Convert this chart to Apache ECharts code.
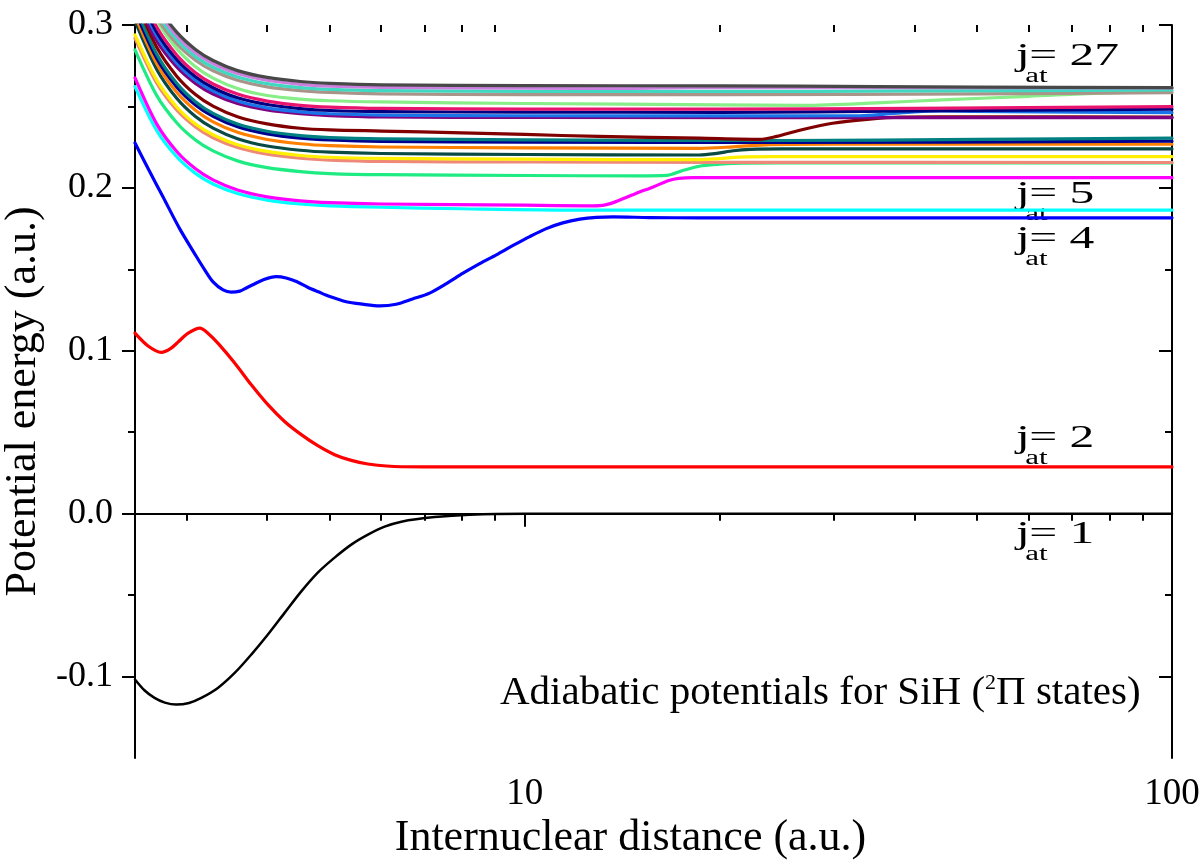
<!DOCTYPE html>
<html><head><meta charset="utf-8">
<script src="https://cdn.jsdelivr.net/npm/echarts@6/dist/echarts.min.js"></script>
<style>html,body{margin:0;padding:0;background:#fff}#c{width:1200px;height:865px}</style>
</head><body><div id="c"></div>
<script>
const FONT = '"Liberation Serif", "Times New Roman", serif';

// axis ranges and ticks
const R_MIN = 2.5, R_MAX = 100;
const E_MIN = -0.15, E_MAX = 0.3;
const xMajorTicks = [10, 100];
const xMinorTicks = [3, 4, 5, 6, 7, 8, 9, 20, 30, 40, 50, 60, 70, 80, 90];
const yMajorTicks = [-0.1, 0, 0.1, 0.2, 0.3];
const yMinorTicks = [-0.05, 0.05, 0.15, 0.25];

// curves: [internuclear distance, potential energy]
const curveBlack = [[2.5,-0.1018],[2.585,-0.1084],[2.68,-0.1131],[2.78,-0.116],[2.894,-0.1172],[3.03,-0.1162],[3.165,-0.1131],[3.357,-0.107],[3.564,-0.0978],[3.781,-0.0865],[4.011,-0.0742],[4.256,-0.0609],[4.517,-0.0477],[4.79,-0.0362],[5.085,-0.027],[5.396,-0.019],[5.725,-0.0129],[6.075,-0.008],[6.448,-0.0049],[7.26,-0.0021],[8.22,-0.0006],[10,0],[100,0]];
const curveRed = [[2.5,0.1108],[2.616,0.1031],[2.745,0.099],[2.84,0.1015],[2.92,0.1057],[3.02,0.1108],[3.15,0.1139],[3.24,0.1108],[3.357,0.1047],[3.564,0.0925],[3.781,0.0791],[4.011,0.0669],[4.256,0.0566],[4.517,0.0485],[4.79,0.0417],[5.085,0.0362],[5.396,0.0327],[5.725,0.0305],[6.448,0.0288],[7.26,0.0287],[100,0.0287]];
const curveBlue = [[2.5,0.2276],[2.63,0.2105],[2.76,0.1947],[2.93,0.175],[3.11,0.1579],[3.2,0.150],[3.3,0.1423],[3.42,0.1374],[3.52,0.136],[3.63,0.1366],[3.72,0.1387],[3.8,0.1405],[3.94,0.1435],[4.13,0.1455],[4.28,0.1447],[4.44,0.1425],[4.62,0.139],[4.8,0.1362],[5.0,0.1333],[5.3,0.1301],[5.62,0.1286],[5.97,0.1276],[6.33,0.1286],[6.71,0.1318],[7.13,0.1354],[7.57,0.1412],[8.03,0.1476],[8.52,0.1535],[9.04,0.1589],[9.58,0.1645],[10.18,0.1701],[10.8,0.175],[11.45,0.1785],[12.17,0.1808],[12.9,0.1819],[13.7,0.1822],[15.6,0.1818],[18.6,0.1816],[100,0.1816]];
const curveCyan = [[2.5,0.2622],[2.7,0.2353],[2.9,0.2191],[3.1,0.2089],[3.3,0.2024],[3.6,0.1965],[4.0,0.1925],[4.5,0.1901],[5,0.189],[6,0.1881],[8,0.1872],[12,0.1864],[100,0.1864]];
const curveMagenta = [[2.5,0.2675],[2.7,0.2393],[2.9,0.2223],[3.1,0.2117],[3.3,0.2049],[3.6,0.1987],[4.0,0.1945],[4.5,0.192],[5,0.1909],[6,0.1901],[10,0.1894],[12.5,0.189],[13.2,0.1893],[13.6,0.1905],[14.0,0.1924],[14.85,0.1966],[15.8,0.2006],[16.7,0.2045],[17.3,0.2058],[18.2,0.2063],[100,0.2063]];
const curveSpring = [[2.5,0.2847],[2.7,0.2568],[2.9,0.24],[3.1,0.2294],[3.3,0.2227],[3.6,0.2166],[4.0,0.2124],[4.5,0.21],[5,0.2088],[6,0.2081],[10,0.2076],[15,0.2074],[16.6,0.2077],[17.5,0.2105],[18.6,0.2133],[20,0.2146],[21,0.2151],[25,0.2153],[100,0.2153]];
const curveSalmon = [[2.5,0.2918],[2.7,0.2644],[2.9,0.2478],[3.1,0.2374],[3.3,0.2308],[3.6,0.2248],[4.0,0.2207],[4.5,0.2182],[5,0.2171],[6,0.2163],[10,0.2159],[20,0.2157],[100,0.2156]];
const curveYellow = [[2.5,0.2939],[2.7,0.2663],[2.9,0.2497],[3.1,0.2392],[3.3,0.2326],[3.6,0.2265],[4.0,0.2224],[4.5,0.2199],[5,0.2188],[6,0.2181],[10,0.2176],[18.6,0.2173],[20,0.218],[21.5,0.2189],[24,0.2192],[100,0.2192]];
const curveDarkGreen = [[2.5,0.3025],[2.7,0.2729],[2.9,0.255],[3.1,0.2438],[3.3,0.2367],[3.6,0.2302],[4.0,0.2257],[4.5,0.2231],[5,0.2219],[6,0.2211],[10,0.2205],[18.6,0.2202],[19.8,0.2212],[21,0.2228],[22.3,0.2236],[25,0.2239],[100,0.2239]];
const curveOrange = [[2.5,0.3057],[2.7,0.2764],[2.9,0.2587],[3.1,0.2476],[3.3,0.2405],[3.6,0.2341],[4.0,0.2297],[4.5,0.2271],[5,0.2259],[6,0.2251],[10,0.2246],[18.6,0.2243],[21,0.2252],[23.9,0.2265],[30,0.2268],[100,0.2268]];
const curveNavyLow = [[2.5,0.3087],[2.7,0.2796],[2.9,0.262],[3.1,0.2509],[3.3,0.2439],[3.6,0.2375],[4.0,0.2332],[4.5,0.2306],[5,0.2294],[6,0.2285],[10,0.2281],[25,0.2279],[100,0.2287]];
const curveTeal = [[2.5,0.3119],[2.7,0.2822],[2.9,0.2642],[3.1,0.2529],[3.3,0.2457],[3.6,0.2392],[4.0,0.2348],[4.5,0.2321],[5,0.2309],[6,0.2301],[10,0.2295],[25,0.2291],[50,0.2298],[100,0.2305]];
const curveMaroon = [[2.5,0.3162],[2.7,0.2865],[2.9,0.2686],[3.1,0.2573],[3.3,0.2502],[3.6,0.2437],[4.0,0.2393],[4.5,0.2366],[5,0.2356],[6,0.2349],[8,0.2338],[10,0.2328],[13,0.2316],[18.6,0.2305],[23.1,0.2298],[24.5,0.2316],[26.6,0.2354],[29.9,0.2397],[33.8,0.2421],[38,0.2434],[50,0.2436],[100,0.2434]];
const curvePurple = [[2.5,0.3169],[2.7,0.2903],[2.9,0.2742],[3.1,0.2641],[3.3,0.2576],[3.6,0.2518],[4.0,0.2478],[4.5,0.2455],[5,0.2444],[6,0.2436],[10,0.2432],[100,0.2431]];
const curveAzure = [[2.5,0.3212],[2.7,0.2934],[2.9,0.2766],[3.1,0.2661],[3.3,0.2594],[3.6,0.2533],[4.0,0.2491],[4.5,0.2467],[5,0.2455],[6,0.2447],[10,0.2443],[20,0.2442],[33,0.2443],[36,0.2452],[40,0.2466],[44,0.2472],[55,0.2468],[100,0.2462]];
const curveNavyHigh = [[2.5,0.3237],[2.7,0.2957],[2.9,0.2788],[3.1,0.2682],[3.3,0.2615],[3.6,0.2553],[4.0,0.2512],[4.5,0.2487],[5,0.2475],[6,0.2468],[10,0.2465],[20,0.2464],[40,0.2472],[100,0.2483]];
const curveCrimson = [[2.5,0.3276],[2.7,0.2989],[2.9,0.2816],[3.1,0.2707],[3.3,0.2638],[3.6,0.2576],[4.0,0.2533],[4.5,0.2507],[5,0.2496],[6,0.2488],[10,0.2484],[20,0.2483],[40,0.2488],[100,0.2499]];
const curveLightGreen = [[2.5,0.3323],[2.7,0.3031],[2.9,0.2855],[3.1,0.2744],[3.3,0.2674],[3.6,0.261],[4.0,0.2567],[4.5,0.2545],[5,0.2535],[6,0.2528],[10,0.2518],[20,0.251],[27,0.2507],[35,0.2522],[45,0.2542],[60,0.2562],[77,0.2582],[100,0.2593]];
const curveTan = [[2.5,0.3315],[2.7,0.3047],[2.9,0.2885],[3.1,0.2784],[3.3,0.2719],[3.6,0.2661],[4.0,0.262],[4.5,0.2597],[5,0.2586],[6,0.2577],[10,0.2573],[20,0.2572],[50,0.2577],[100,0.2585]];
const curveSeafoam = [[2.5,0.3347],[2.7,0.3074],[2.9,0.291],[3.1,0.2806],[3.3,0.2741],[3.6,0.2681],[4.0,0.264],[4.5,0.2616],[5,0.2605],[6,0.2597],[10,0.2593],[20,0.2592],[40,0.2595],[100,0.2601]];
const curveViolet = [[2.5,0.3376],[2.7,0.31],[2.9,0.2934],[3.1,0.2829],[3.3,0.2763],[3.6,0.2702],[4.0,0.2661],[4.5,0.2636],[5,0.2625],[6,0.2617],[10,0.2612],[14.5,0.2611],[18,0.2616],[100,0.2614]];
const curveGray = [[2.5,0.3408],[2.7,0.3126],[2.9,0.2956],[3.1,0.285],[3.3,0.2782],[3.6,0.272],[4.0,0.2678],[4.5,0.2653],[5,0.2642],[6,0.2633],[10,0.2628],[20,0.2626],[35,0.2622],[50,0.2618],[100,0.2615]];

const curves = [
  {name:'c1', color:'#000000', width:2.5, data:curveBlack},
  {name:'c2', color:'#FF0000', width:3.2, data:curveRed},
  {name:'c3', color:'#0000FF', width:3.2, data:curveBlue},
  {name:'c4', color:'#00FFFF', width:3.2, data:curveCyan},
  {name:'c5', color:'#FF00FF', width:3.2, data:curveMagenta},
  {name:'c6', color:'#1EEB82', width:3.2, data:curveSpring},
  {name:'c7', color:'#EE8878', width:3.2, data:curveSalmon},
  {name:'c8', color:'#FFF000', width:3.2, data:curveYellow},
  {name:'c9', color:'#0A4A44', width:3.2, data:curveDarkGreen},
  {name:'c10', color:'#FF8000', width:3.2, data:curveOrange},
  {name:'c11', color:'#000090', width:3.2, data:curveNavyLow},
  {name:'c12', color:'#008080', width:3.2, data:curveTeal},
  {name:'c13', color:'#800000', width:3.2, data:curveMaroon},
  {name:'c14', color:'#800080', width:3.2, data:curvePurple},
  {name:'c15', color:'#1874E8', width:3.2, data:curveAzure},
  {name:'c16', color:'#000080', width:3.2, data:curveNavyHigh},
  {name:'c17', color:'#E8146E', width:3.2, data:curveCrimson},
  {name:'c18', color:'#88EE88', width:3.2, data:curveLightGreen},
  {name:'c19', color:'#A89488', width:3.2, data:curveTan},
  {name:'c20', color:'#40D8C0', width:3.2, data:curveSeafoam},
  {name:'c21', color:'#CC80DD', width:3.2, data:curveViolet},
  {name:'c22', color:'#484848', width:3.2, data:curveGray}
];

const jLabels = [
  {num:'27', base:67},
  {num:'5', base:205},
  {num:'4', base:250},
  {num:'2', base:449},
  {num:'1', base:545}
];

const LMIN = Math.log10(R_MIN), LMAX = Math.log10(R_MAX);
const black = '#000';
const lineSt = {color:black, width:2};

function overlayX(pos, ticks, len, inside, showLine, labels) {
  return {
    type:'value', min:LMIN, max:LMAX, position:pos,
    axisLine:{show:showLine, lineStyle:lineSt},
    axisTick:{show:true, inside:inside, length:len, lineStyle:lineSt, customValues:ticks.map(Math.log10)},
    axisLabel: labels ? {show:true, customValues:ticks.map(Math.log10), formatter:v=>String(Math.round(Math.pow(10,v))),
       fontSize:37, fontFamily:FONT, color:black, margin:18} : {show:false},
    splitLine:{show:false}, minorTick:{show:false}
  };
}
function overlayY(pos, ticks, len, inside, showLine, labels, extra) {
  return Object.assign({
    type:'value', min:E_MIN, max:E_MAX, position:pos,
    axisLine:{show:showLine, lineStyle:lineSt},
    axisTick:{show:true, inside:inside, length:len, lineStyle:lineSt, customValues:ticks},
    axisLabel: labels ? {show:true, customValues:ticks, formatter:v=>v.toFixed(1),
       fontSize:36, fontFamily:FONT, color:black, margin:22} : {show:false},
    splitLine:{show:false}, minorTick:{show:false}
  }, extra || {});
}

const xAxes = [
  {type:'log', logBase:10, min:R_MIN, max:R_MAX, position:'bottom',
   axisLine:{show:true, lineStyle:lineSt}, axisTick:{show:false}, axisLabel:{show:false},
   splitLine:{show:false}, minorTick:{show:false},
   name:'Internuclear distance (a.u.)', nameLocation:'middle', nameGap:58,
   nameTextStyle:{fontSize:44, fontFamily:FONT, color:black, padding:[0,46,0,0]}},
  overlayX('bottom', xMajorTicks, 13, false, false, true),
  overlayX('bottom', xMinorTicks, 7, false, false, false),
  overlayX('top', xMajorTicks, 13, true, true, false),
  overlayX('top', xMinorTicks, 7, true, false, false)
];
const yAxes = [
  overlayY('left', yMajorTicks, 13, false, true, true, {
    name:'Potential energy (a.u.)', nameLocation:'middle', nameGap:83,
    nameTextStyle:{fontSize:44, fontFamily:FONT, color:black, padding:[0,20,0,0]}}),
  overlayY('left', yMinorTicks, 7, false, false, false),
  overlayY('right', yMajorTicks, 13, true, true, false),
  overlayY('right', yMinorTicks, 7, true, false, false)
];

const series = curves.map(c => ({
  name:c.name, type:'line', xAxisIndex:0, yAxisIndex:0, data:c.data,
  showSymbol:false, symbol:'none', smooth:0.3, clip:true,
  lineStyle:{color:c.color, width:c.width, join:'round', cap:'round'}, itemStyle:{color:c.color},
  emphasis:{disabled:true}
}));

const SX = 1.55;
const graphics = [];
jLabels.forEach(l => {
  graphics.push({type:'group', x:1016, y:l.base, scaleX:SX, scaleY:1, silent:true, children:[
    {type:'text', x:0, y:-10, style:{text:'j', fontSize:32, fontFamily:FONT, fill:black, align:'left', verticalAlign:'middle'}},
    {type:'text', x:6, y:10, style:{text:'at', fontSize:20, fontFamily:FONT, fill:black, align:'left', verticalAlign:'middle'}},
    {type:'text', x:8.5, y:-10, style:{text:'= ' + l.num, fontSize:32, fontFamily:FONT, fill:black, align:'left', verticalAlign:'middle'}}
  ]});
});
graphics.push({type:'text', x:500, y:693, silent:true,
  style:{text:'Adiabatic potentials for SiH ({sup|2}\u03A0 states)', fontSize:41, fontFamily:FONT, fill:black,
    align:'left', verticalAlign:'middle',
    rich:{sup:{fontSize:22, fontFamily:FONT, fill:black, verticalAlign:'top', padding:[0,0,6,0]}}}});

const chart = echarts.init(document.getElementById('c'), null, {renderer:'canvas'});
chart.setOption({
  animation:false,
  backgroundColor:'#fff',
  grid:{left:135, right:28, top:25, bottom:107, containLabel:false, outerBoundsMode:'none'},
  xAxis:xAxes, yAxis:yAxes, series:series, graphic:graphics,
  tooltip:{show:false}, legend:{show:false}
});
</script></body></html>
